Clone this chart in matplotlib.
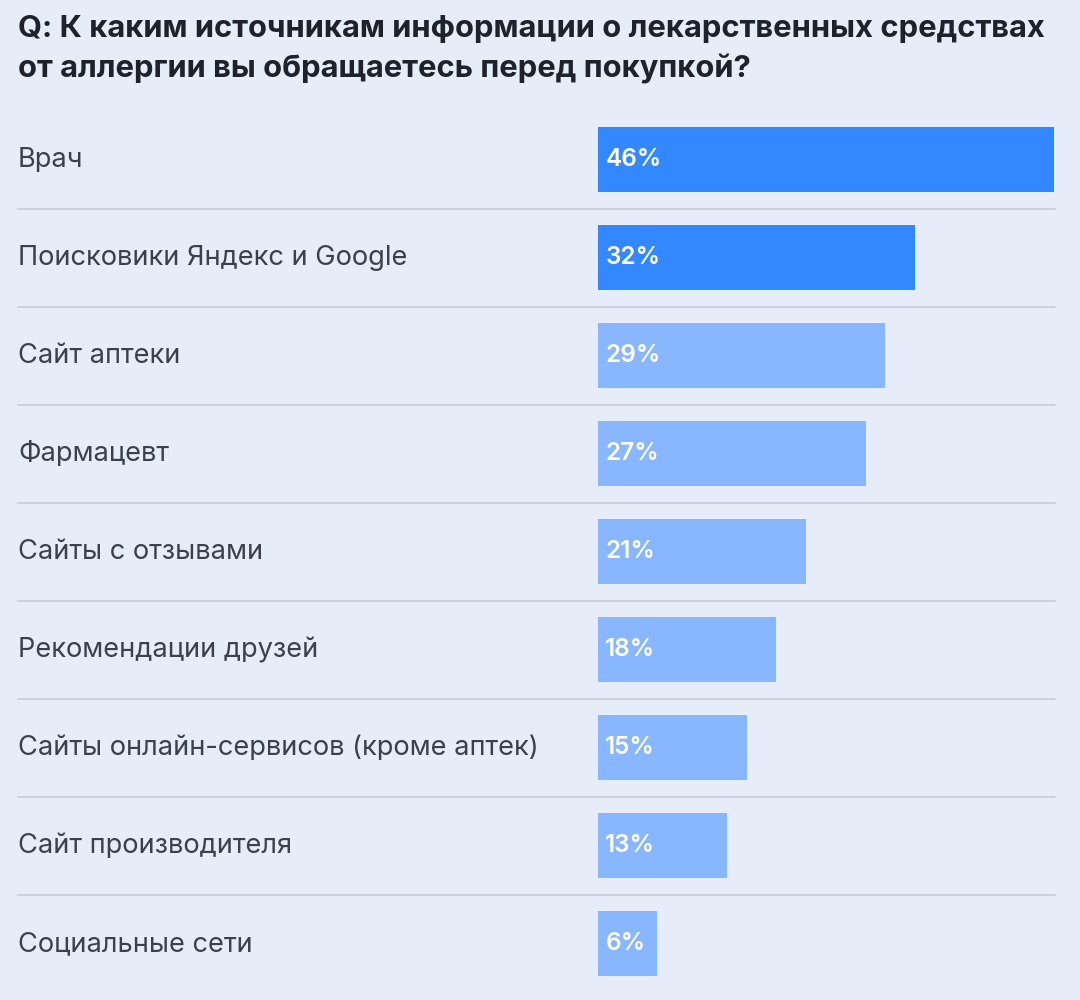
import matplotlib
matplotlib.use('Agg')
import matplotlib.pyplot as plt

# data
sources = ['Врач', 'Поисковики Яндекс и Google', 'Сайт аптеки', 'Фармацевт',
           'Сайты с отзывами', 'Рекомендации друзей',
           'Сайты онлайн-сервисов (кроме аптек)', 'Сайт производителя',
           'Социальные сети']
shares = [46, 32, 29, 27, 21, 18, 15, 13, 6]
title = 'Q: К каким источникам информации о лекарственных средствах\nот аллергии вы обращаетесь перед покупкой?'

bg = '#e6edf8'
dark_blue = '#3488ff'
light_blue = '#88b6ff'

plt.rcParams['font.family'] = ['Inter', 'DejaVu Sans']

fig = plt.figure(figsize=(10.8, 10), dpi=100)
fig.patch.set_facecolor(bg)
ax = fig.add_axes([0, 0, 1, 1])
ax.set_facecolor(bg)

# map data units to pixels: 0% at x=598px, 46% at x=1054px
px = 456 / 46
ax.set_xlim(-598 / px, (1080 - 598) / px)
ax.set_ylim((1000 - 159.5) / 98, -159.5 / 98)
ax.axis('off')

rows = list(range(len(sources)))
colors = [dark_blue if i < 2 else light_blue for i in rows]
ax.barh(rows, shares, height=0.663, color=colors, left=0)

for i, (name, v) in enumerate(zip(sources, shares)):
    ax.text(18 / 1080, i + 0.01, name, transform=ax.get_yaxis_transform(),
            ha='left', va='center', fontsize=19.6, color='#3b404c')
    ax.text(0.75, i, '%d%%' % v, ha='left', va='center', fontsize=17.5,
            color='white', fontweight='semibold')

for i in rows[:-1]:
    ax.axhline(i + 0.5, xmin=18 / 1080, xmax=1055 / 1080, color='#c8ced8',
               linewidth=1.2)

fig.text(18 / 1080, 1 - 15 / 1000, title, ha='left', va='top', fontsize=22.3,
         fontweight='bold', color='#1e222c', linespacing=1.45)

fig.savefig('out.png', dpi=100, facecolor=bg)
